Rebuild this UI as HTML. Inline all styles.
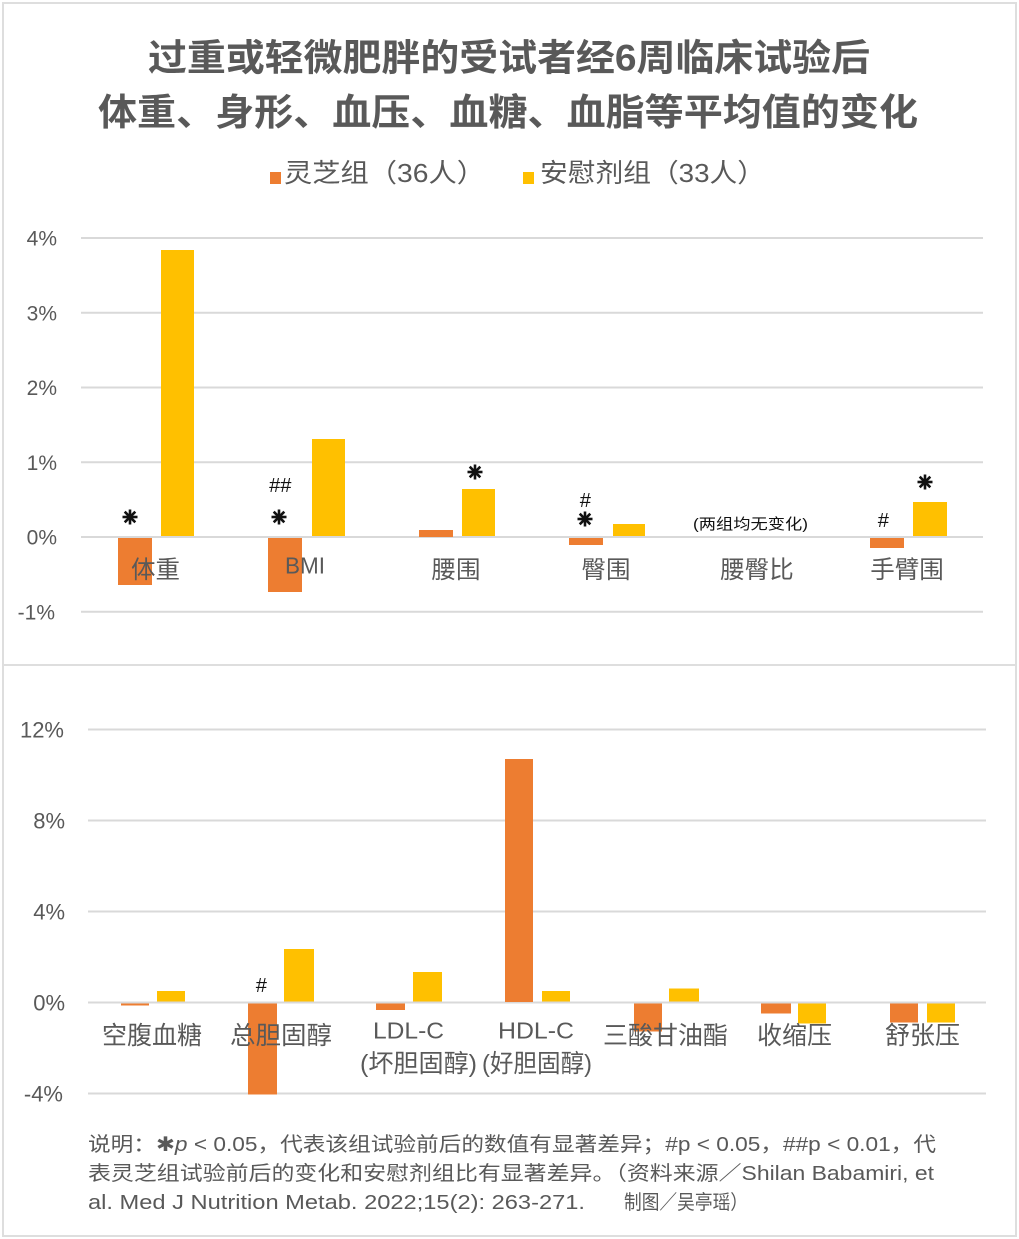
<!DOCTYPE html>
<html><head><meta charset="utf-8"><style>
html,body{margin:0;padding:0;background:#fff;}
svg{display:block;}
.t{font-family:"Liberation Sans","Noto Sans CJK SC",sans-serif;fill:#595959;}
.c{font-family:"Liberation Sans","Noto Sans CJK SC",sans-serif;fill:#595959;}
.k{font-family:"Liberation Sans","Noto Sans CJK SC",sans-serif;fill:#111;}
</style></head><body>
<svg width="1019" height="1239" viewBox="0 0 1019 1239" xmlns="http://www.w3.org/2000/svg">
<rect x="0" y="0" width="1019" height="1239" fill="#fff"/>
<rect x="3" y="3" width="1013" height="1233" fill="none" stroke="#dedede" stroke-width="2"/>
<line x1="3" y1="665" x2="1016" y2="665" stroke="#dedede" stroke-width="2"/>

<!-- Title -->
<text class="t" x="148" y="70.5" font-size="37" font-weight="bold" textLength="722" lengthAdjust="spacingAndGlyphs">过重或轻微肥胖的受试者经6周临床试验后</text>
<text class="t" x="98" y="125" font-size="37" font-weight="bold" textLength="820" lengthAdjust="spacingAndGlyphs">体重、身形、血压、血糖、血脂等平均值的变化</text>

<!-- Legend -->
<rect x="270" y="172" width="11" height="12" fill="#ED7D31"/>
<text class="t" x="284" y="182" font-size="26" textLength="201" lengthAdjust="spacingAndGlyphs">灵芝组（36人）</text>
<rect x="523" y="172" width="11" height="12" fill="#FFC000"/>
<text class="t" x="540" y="182" font-size="26" textLength="225" lengthAdjust="spacingAndGlyphs">安慰剂组（33人）</text>

<!-- Top chart grid -->
<g stroke="#d9d9d9" stroke-width="2">
<line x1="81" y1="238" x2="983" y2="238"/>
<line x1="81" y1="312.75" x2="983" y2="312.75"/>
<line x1="81" y1="387.5" x2="983" y2="387.5"/>
<line x1="81" y1="462.25" x2="983" y2="462.25"/>
<line x1="81" y1="537" x2="983" y2="537"/>
<line x1="81" y1="611.75" x2="983" y2="611.75"/>
</g>
<g class="c" font-size="21" text-anchor="end">
<text x="57" y="245.5">4%</text>
<text x="57" y="320.25">3%</text>
<text x="57" y="395">2%</text>
<text x="57" y="469.75">1%</text>
<text x="57" y="544.5">0%</text>
<text x="55" y="619.25">-1%</text>
</g>

<!-- Top bars -->
<g fill="#ED7D31">
<rect x="118" y="538" width="34" height="47"/>
<rect x="268" y="538" width="34" height="54"/>
<rect x="419" y="530" width="34" height="7"/>
<rect x="569" y="538" width="34" height="7"/>
<rect x="870" y="538" width="34" height="10"/>
</g>
<g fill="#FFC000">
<rect x="161" y="250" width="33" height="286"/>
<rect x="312" y="439" width="33" height="97"/>
<rect x="462" y="489" width="33" height="47"/>
<rect x="613" y="524" width="32" height="12"/>
<rect x="913" y="502" width="34" height="34"/>
</g>

<!-- Top labels -->
<g class="c" font-size="24.5" text-anchor="middle">
<text x="155.5" y="578">体重</text>
<text x="456" y="578">腰围</text>
<text x="606" y="578">臀围</text>
<text x="757" y="578">腰臀比</text>
<text x="907" y="578">手臂围</text>
</g>
<text class="c" x="285" y="573.5" font-size="23" textLength="40" lengthAdjust="spacingAndGlyphs">BMI</text>
<text class="k" x="693" y="529" font-size="15" textLength="115" lengthAdjust="spacingAndGlyphs">(两组均无变化)</text>

<!-- Annotations: hashes -->
<g class="k" font-size="20" text-anchor="middle" font-style="italic">
<text x="280" y="492">##</text>
<text x="585" y="507">#</text>
<text x="883" y="527">#</text>
<text x="261" y="992">#</text>
</g>
<!-- Annotations: heavy asterisks -->
<g stroke="#111" stroke-width="2.6" fill="none">
<g transform="translate(130,517)"><line x1="-7.5" y1="0" x2="7.5" y2="0"/><line x1="0" y1="-7.5" x2="0" y2="7.5"/><line x1="-5.3" y1="-5.3" x2="5.3" y2="5.3"/><line x1="-5.3" y1="5.3" x2="5.3" y2="-5.3"/></g>
<g transform="translate(279,517)"><line x1="-7.5" y1="0" x2="7.5" y2="0"/><line x1="0" y1="-7.5" x2="0" y2="7.5"/><line x1="-5.3" y1="-5.3" x2="5.3" y2="5.3"/><line x1="-5.3" y1="5.3" x2="5.3" y2="-5.3"/></g>
<g transform="translate(475,472)"><line x1="-7.5" y1="0" x2="7.5" y2="0"/><line x1="0" y1="-7.5" x2="0" y2="7.5"/><line x1="-5.3" y1="-5.3" x2="5.3" y2="5.3"/><line x1="-5.3" y1="5.3" x2="5.3" y2="-5.3"/></g>
<g transform="translate(585,519)"><line x1="-7.5" y1="0" x2="7.5" y2="0"/><line x1="0" y1="-7.5" x2="0" y2="7.5"/><line x1="-5.3" y1="-5.3" x2="5.3" y2="5.3"/><line x1="-5.3" y1="5.3" x2="5.3" y2="-5.3"/></g>
<g transform="translate(925,482)"><line x1="-7.5" y1="0" x2="7.5" y2="0"/><line x1="0" y1="-7.5" x2="0" y2="7.5"/><line x1="-5.3" y1="-5.3" x2="5.3" y2="5.3"/><line x1="-5.3" y1="5.3" x2="5.3" y2="-5.3"/></g>
</g>

<!-- Bottom chart grid -->
<g stroke="#d9d9d9" stroke-width="2">
<line x1="88" y1="729.5" x2="986" y2="729.5"/>
<line x1="88" y1="820.5" x2="986" y2="820.5"/>
<line x1="88" y1="911.5" x2="986" y2="911.5"/>
<line x1="88" y1="1002.5" x2="986" y2="1002.5"/>
<line x1="88" y1="1093.5" x2="986" y2="1093.5"/>
</g>
<g class="c" font-size="22" text-anchor="end">
<text x="64" y="737.5">12%</text>
<text x="65" y="828.5">8%</text>
<text x="65" y="919.5">4%</text>
<text x="65" y="1010.5">0%</text>
<text x="63" y="1101.5">-4%</text>
</g>

<!-- Bottom bars -->
<g fill="#ED7D31">
<rect x="121" y="1003.5" width="28" height="2"/>
<rect x="248" y="1003.5" width="29" height="91"/>
<rect x="376" y="1003.5" width="29" height="6.5"/>
<rect x="505" y="759" width="28" height="243"/>
<rect x="634" y="1003.5" width="28" height="28"/>
<rect x="761" y="1003.5" width="30" height="10"/>
<rect x="890" y="1003.5" width="28" height="19"/>
</g>
<g fill="#FFC000">
<rect x="157" y="991" width="28" height="10.5"/>
<rect x="284" y="949" width="30" height="52.5"/>
<rect x="413" y="972" width="29" height="29.5"/>
<rect x="542" y="991" width="28" height="10.5"/>
<rect x="669" y="988.5" width="30" height="13"/>
<rect x="798" y="1003.5" width="28" height="20"/>
<rect x="927" y="1003.5" width="28" height="19"/>
</g>

<!-- Bottom labels -->
<g class="c" font-size="25">
<text x="102" y="1044" textLength="100" lengthAdjust="spacingAndGlyphs">空腹血糖</text>
<text x="230" y="1044" textLength="102" lengthAdjust="spacingAndGlyphs">总胆固醇</text>
<text x="603" y="1044" textLength="125" lengthAdjust="spacingAndGlyphs">三酸甘油酯</text>
<text x="757" y="1044" textLength="75" lengthAdjust="spacingAndGlyphs">收缩压</text>
<text x="885" y="1044" textLength="75" lengthAdjust="spacingAndGlyphs">舒张压</text>
<text x="360" y="1072" textLength="117" lengthAdjust="spacingAndGlyphs">(坏胆固醇)</text>
<text x="482" y="1072" textLength="110" lengthAdjust="spacingAndGlyphs">(好胆固醇)</text>
</g>
<g class="c" font-size="23">
<text x="373" y="1038.5" textLength="71" lengthAdjust="spacingAndGlyphs">LDL-C</text>
<text x="498" y="1038.5" textLength="76" lengthAdjust="spacingAndGlyphs">HDL-C</text>
</g>

<!-- Footer -->
<g class="c" font-size="20">
<text x="88" y="1151" textLength="848" lengthAdjust="spacingAndGlyphs">说明：✱<tspan font-style="italic">p</tspan> &lt; 0.05，代表该组试验前后的数值有显著差异；#p &lt; 0.05，##p &lt; 0.01，代</text>
<text x="88" y="1180" textLength="846" lengthAdjust="spacingAndGlyphs">表灵芝组试验前后的变化和安慰剂组比有显著差异。（资料来源／Shilan Babamiri, et</text>
<text x="88" y="1209" textLength="497" lengthAdjust="spacingAndGlyphs">al. Med J Nutrition Metab. 2022;15(2): 263-271.</text>
<text x="624" y="1209" font-size="20" textLength="124" lengthAdjust="spacingAndGlyphs">制图／吴亭瑶）</text>
</g>
</svg>
</body></html>
